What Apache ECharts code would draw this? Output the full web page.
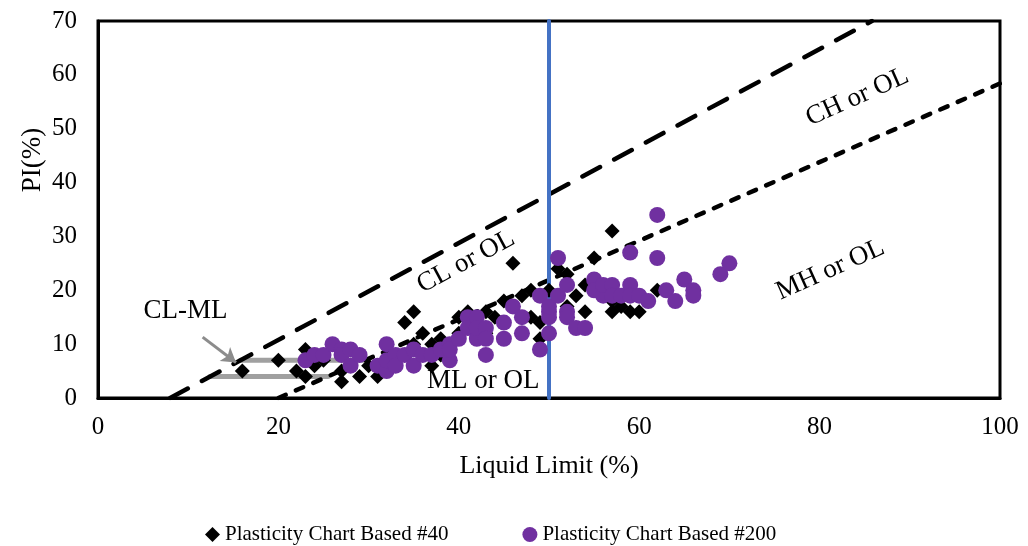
<!DOCTYPE html>
<html>
<head>
<meta charset="utf-8">
<script src="https://cdn.jsdelivr.net/npm/echarts@6/dist/echarts.min.js"></script>
<style>
html,body{margin:0;padding:0;background:#fff;}
#chart{width:1028px;height:546px;}
</style>
</head>
<body>
<div id="chart"></div>
<script>
// Plasticity Chart Based #40
const ll40 = [16,20,23,22,23,24,25,27,27,28,29,30,31,32,33,34,34,35,35,36,37,37,38,38,39,40,40,41,42,43,43,44,45,46,46,47,48,48,49,49,50,51,51,52,52,53,54,54,55,55,56,57,57,57,58,59,60,60,62];
const pi40 = [5,7,9,5,4,6,7,3,5,6,4,6,4,5,6,8,14,16,10,12,10,6,8,11,9,12,15,16,14,12,16,15,18,25,17,19,15,20,11,14,20,24,19,23,17,19,16,21,26,20,19,31,16,18,17,16,16,19,20];
// Plasticity Chart Based #200
const ll200 = [23,24,25,26,27,27,28,28,29,31,32,32,32,33,33,34,35,35,36,37,38,39,39,39,40,41,41,42,42,42,43,43,43,45,45,46,47,47,49,49,50,50,50,50,51,51,52,52,52,53,54,55,55,56,56,57,57,58,59,59,59,60,61,62,62,63,64,65,66,66,69,70];
const pi200 = [7,8,8,10,9,8,9,6,8,6,5,10,7,8,6,8,6,9,8,8,9,10,7,9,11,15,13,15,11,13,13,11,8,14,11,17,15,12,19,9,16,12,15,17,26,19,21,16,15,13,13,22,20,19,21,21,19,19,27,21,19,19,18,34,26,20,18,22,20,19,23,25];
// Reference lines
const uLineLL = [8, 85.8], uLinePI = [0, 70];
const aLineLL = [20, 100], aLinePI = [0, 58.4];
const boundaryLL = [50, 50], boundaryPI = [0, 70];
const clmlLowLL = [12.4, 25.5], clmlLowPI = [4, 4];
const clmlHighLL = [15.8, 29.6], clmlHighPI = [7, 7];
const xTicks = [0, 20, 40, 60, 80, 100];
const yTicks = [0, 10, 20, 30, 40, 50, 60, 70];
const seriesNames = ['Plasticity Chart Based #40', 'Plasticity Chart Based #200'];

const zip = (a, b) => a.map((v, i) => [v, b[i]]);
const FONT = '"Liberation Serif", "Times New Roman", serif';

const chart = echarts.init(document.getElementById('chart'), null, {renderer: 'canvas'});

function lineSeries(name, xs, ys, color, width, type, z) {
  return {
    name: name, type: 'line', data: zip(xs, ys), symbol: 'none', silent: true,
    lineStyle: {color: color, width: width, type: type, cap: 'round'},
    z: z, animation: false
  };
}

const option = {
  animation: false,
  backgroundColor: '#fff',
  grid: {left: 98, right: 28, top: 21, bottom: 148, show: true, borderColor: '#000', borderWidth: 3, backgroundColor: 'transparent'},
  xAxis: {
    type: 'value', min: xTicks[0], max: xTicks[xTicks.length - 1], interval: 20,
    name: 'Liquid Limit (%)', nameLocation: 'middle', nameGap: 55,
    nameTextStyle: {fontFamily: FONT, fontSize: 26, color: '#000'},
    axisLine: {show: true, lineStyle: {color: '#000', width: 3}},
    axisTick: {show: false}, splitLine: {show: false},
    axisLabel: {fontFamily: FONT, fontSize: 25, color: '#000', margin: 17}
  },
  yAxis: {
    type: 'value', min: yTicks[0], max: yTicks[yTicks.length - 1], interval: 10,
    axisLine: {show: true, lineStyle: {color: '#000', width: 3}},
    axisTick: {show: false}, splitLine: {show: false},
    axisLabel: {fontFamily: FONT, fontSize: 25, color: '#000', margin: 21}
  },
  legend: {
    top: 519, left: 200, itemWidth: 15, itemHeight: 15, itemGap: 74,
    data: seriesNames,
    textStyle: {fontFamily: FONT, fontSize: 21, color: '#000'}
  },
  series: [
    lineSeries('U-line', uLineLL, uLinePI, '#000', 4.5, [20, 16], 2),
    lineSeries('A-line', aLineLL, aLinePI, '#000', 4.5, [8, 11], 2),
    lineSeries('CLML-low', clmlLowLL, clmlLowPI, '#a0a0a0', 5, 'solid', 1),
    lineSeries('CLML-high', clmlHighLL, clmlHighPI, '#a0a0a0', 5, 'solid', 1),
    lineSeries('LL50', boundaryLL, boundaryPI, '#4472C4', 4, 'solid', 3),
    {
      name: 'arrow', type: 'line', data: [], silent: true,
      markLine: {
        silent: true, symbol: ['none', 'arrow'], symbolSize: [13, 14],
        label: {show: false},
        lineStyle: {color: '#8c8c8c', width: 3, type: 'solid'},
        data: [[{coord: [11.6, 11.3]}, {coord: [15.3, 6.6]}]]
      }
    },
    {
      name: seriesNames[0], type: 'scatter', data: zip(ll40, pi40),
      symbol: 'diamond', symbolSize: 15, itemStyle: {color: '#000', opacity: 1}, z: 4
    },
    {
      name: seriesNames[1], type: 'scatter', data: zip(ll200, pi200),
      symbol: 'circle', symbolSize: 16, itemStyle: {color: '#7030A0', opacity: 1}, z: 5
    }
  ]
};
chart.setOption(option);

// Zone annotations positioned in data coordinates
const notes = [
  {text: 'CL-ML', at: [9.7, 16.2], rot: 0},
  {text: 'CL or OL', at: [40.8, 25.3], rot: 28},
  {text: 'CH or OL', at: [84.2, 55.9], rot: 24},
  {text: 'MH or OL', at: [81.2, 23.8], rot: 24},
  {text: 'ML or OL', at: [42.7, 3.1], rot: 0}
];
const graphics = notes.map(n => {
  const p = chart.convertToPixel({gridIndex: 0}, n.at);
  return {
    type: 'text', x: p[0], y: p[1], rotation: n.rot * Math.PI / 180, z: 10,
    style: {text: n.text, font: '27px ' + FONT, fill: '#000', align: 'center', verticalAlign: 'middle'}
  };
});
// y-axis title
graphics.push({
  type: 'text', x: 33, y: 160, rotation: Math.PI / 2, z: 10,
  style: {text: 'PI(%)', font: '27px ' + FONT, fill: '#000', align: 'center', verticalAlign: 'middle'}
});
chart.setOption({graphic: graphics});
</script>
</body>
</html>
